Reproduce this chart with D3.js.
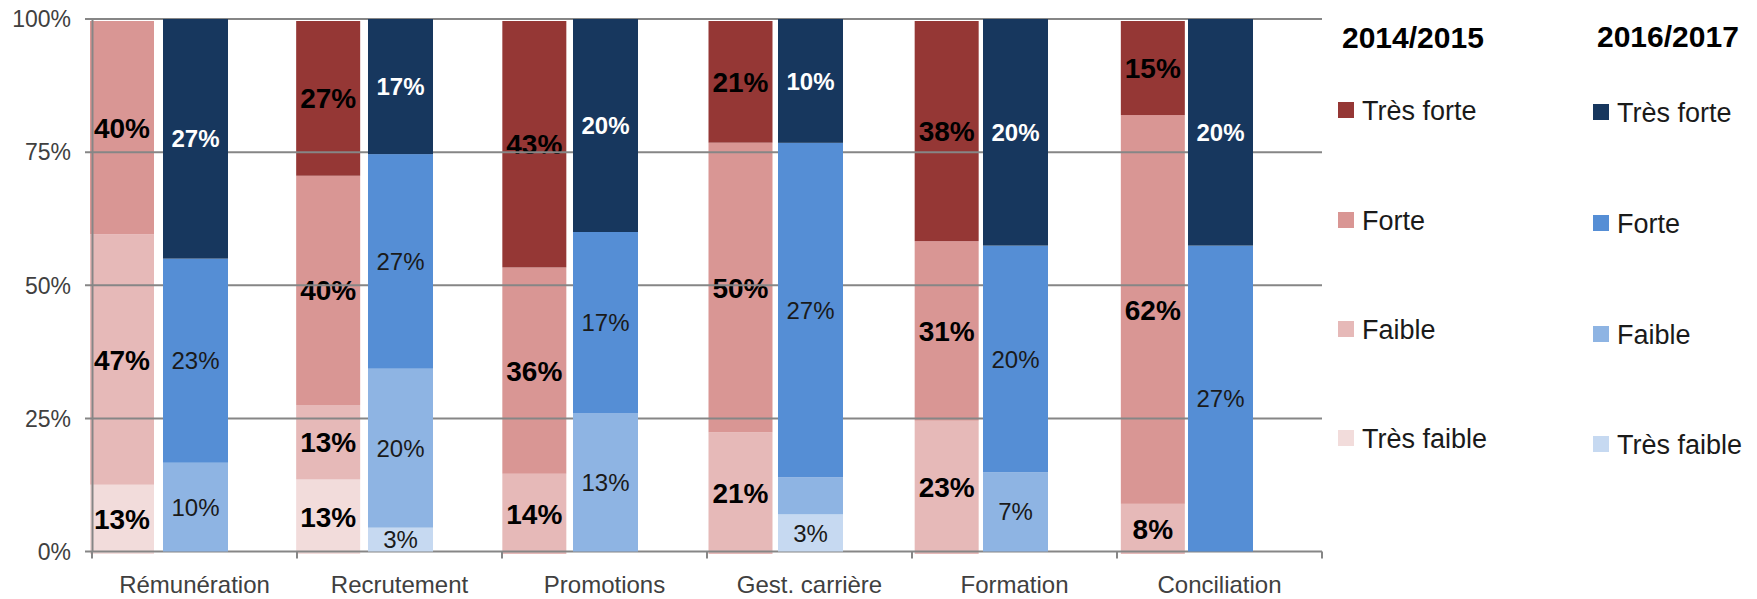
<!DOCTYPE html>
<html>
<head>
<meta charset="utf-8">
<script src="https://cdn.jsdelivr.net/npm/d3@7"></script>
<style>
  body { margin: 0; background: #fff; }
  svg { display: block; font-family: "Liberation Sans", Arial, sans-serif; }
</style>
</head>
<body>
<div id="chart"></div>
<script>
const categories = ["Rémunération", "Recrutement", "Promotions", "Gest. carrière", "Formation", "Conciliation"];
const levels = ["Très faible", "Faible", "Forte", "Très forte"];

// 2014/2015 (red), one array per level
const veryLow2014  = [13, 13, 0, 0, 0, 0];
const low2014      = [47, 13, 14, 21, 23, 8];
const high2014     = [40, 40, 36, 50, 31, 62];
const veryHigh2014 = [0, 27, 43, 21, 38, 15];

// 2016/2017 (blue)
const veryLow2016  = [0, 3, 0, 3, 0, 0];
const low2016      = [10, 20, 13, 3, 7, 0];
const high2016     = [23, 27, 17, 27, 20, 27];
const veryHigh2016 = [27, 17, 20, 10, 20, 20];

// segments drawn without a label in the original
const unlabeled2016 = [["Gest. carrière", "Faible"]];

const yTicks = [0, 0.25, 0.5, 0.75, 1];
const legendTitles = ["2014/2015", "2016/2017"];

const red = ["#f2dcdb", "#e6b9b8", "#d99694", "#953735"];
const blue = ["#c6d9f1", "#8eb4e3", "#558ed5", "#17375e"];

width = 1757;
height = 599;

const rows = (arrs) => categories.map((c, i) => {
    const r = { cat: c };
    levels.forEach((l, j) => r[l] = arrs[j][i]);
    return r;
});
const data2014 = rows([veryLow2014, low2014, high2014, veryHigh2014]);
const data2016 = rows([veryLow2016, low2016, high2016, veryHigh2016]);

const stack = d3.stack().keys(levels).offset(d3.stackOffsetExpand);
const s2014 = stack(data2014);
const s2016 = stack(data2016);

// front (blue) chart axes; red chart sits on a slightly shifted secondary frame
const x = d3.scaleBand(categories, [92, 1322]);
const xRed = d3.scaleBand(categories, [90, 1327]);
const y = d3.scaleLinear([0, 1], [551.5, 19]);
const yRed = d3.scaleLinear([0, 1], [554, 21]);
const barW = 64, blueOff = 71;

const svg = d3.select("#chart").append("svg")
    .attr("width", width)
    .attr("height", height)
    .attr("viewBox", [0, 0, width, height]);

// red bars (behind the gridlines)
const redLayer = svg.append("g");
redLayer.selectAll("g")
    .data(s2014)
    .join("g")
    .attr("fill", (d, i) => red[i])
    .selectAll("rect")
    .data(d => d)
    .join("rect")
    .attr("x", d => xRed(d.data.cat))
    .attr("width", barW)
    .attr("y", d => yRed(d[1]))
    .attr("height", d => yRed(d[0]) - yRed(d[1]));

redLayer.selectAll("text")
    .data(s2014.flatMap(s => s.map(d => ({ d, key: s.key }))).filter(o => o.d.data[o.key] > 0))
    .join("text")
    .attr("x", o => xRed(o.d.data.cat) + barW / 2)
    .attr("y", o => yRed((o.d[0] + o.d[1]) / 2))
    .attr("dy", "0.36em")
    .attr("text-anchor", "middle")
    .attr("font-weight", "bold")
    .attr("font-size", 28)
    .attr("fill", "#000")
    .text(o => o.d.data[o.key] + "%");

// gridlines and axes
const grid = svg.append("g");
grid.selectAll("line.grid")
    .data(yTicks)
    .join("line")
    .attr("class", "grid")
    .attr("x1", 85).attr("x2", 1322)
    .attr("y1", d => y(d)).attr("y2", d => y(d))
    .attr("stroke", "#868686")
    .attr("stroke-width", 2);

grid.append("line")
    .attr("x1", 92.5).attr("x2", 92.5)
    .attr("y1", y(1)).attr("y2", y(0))
    .attr("stroke", "#868686")
    .attr("stroke-width", 2);

const bounds = categories.map(c => x(c)).concat([x.range()[1]]);
grid.selectAll("line.xtick")
    .data(bounds)
    .join("line")
    .attr("class", "xtick")
    .attr("x1", d => d).attr("x2", d => d)
    .attr("y1", y(0)).attr("y2", y(0) + 7)
    .attr("stroke", "#868686")
    .attr("stroke-width", 2);

grid.selectAll("text.ytick")
    .data(yTicks)
    .join("text")
    .attr("class", "ytick")
    .attr("x", 71)
    .attr("y", d => y(d))
    .attr("dy", "0.36em")
    .attr("text-anchor", "end")
    .attr("font-size", 23)
    .attr("fill", "#404040")
    .text(d3.format(".0%"));

grid.selectAll("text.xlabel")
    .data(categories)
    .join("text")
    .attr("class", "xlabel")
    .attr("x", d => x(d) + x.bandwidth() / 2)
    .attr("y", 593)
    .attr("text-anchor", "middle")
    .attr("font-size", 24)
    .attr("fill", "#404040")
    .text(d => d);

// blue bars on top
const blueLayer = svg.append("g");
blueLayer.selectAll("g")
    .data(s2016)
    .join("g")
    .attr("fill", (d, i) => blue[i])
    .selectAll("rect")
    .data(d => d)
    .join("rect")
    .attr("x", d => x(d.data.cat) + blueOff)
    .attr("width", barW + 1)
    .attr("y", d => y(d[1]))
    .attr("height", d => y(d[0]) - y(d[1]));

const hidden = (cat, key) => unlabeled2016.some(u => u[0] === cat && u[1] === key);
blueLayer.selectAll("text")
    .data(s2016.flatMap(s => s.map(d => ({ d, key: s.key })))
        .filter(o => o.d.data[o.key] > 0 && !hidden(o.d.data.cat, o.key)))
    .join("text")
    .attr("x", o => x(o.d.data.cat) + blueOff + (barW + 1) / 2)
    .attr("y", o => y((o.d[0] + o.d[1]) / 2))
    .attr("dy", "0.36em")
    .attr("text-anchor", "middle")
    .attr("font-size", 24)
    .attr("font-weight", o => o.key === "Très forte" ? "bold" : "normal")
    .attr("fill", o => o.key === "Très forte" ? "#fff" : "#1a1a1a")
    .text(o => o.d.data[o.key] + "%");

// legends: two columns, top level first
const legendCols = [
    { title: legendTitles[0], colors: red, x: 1338, rowsY: [110, 220, 329, 438], titleY: 48 },
    { title: legendTitles[1], colors: blue, x: 1593, rowsY: [112, 223, 334, 444], titleY: 47 }
];
const order = levels.slice().reverse();
legendCols.forEach(col => {
    const g = svg.append("g");
    g.append("text")
        .attr("x", col.x + 4)
        .attr("y", col.titleY)
        .attr("font-size", 30)
        .attr("font-weight", "bold")
        .attr("fill", "#000")
        .text(col.title);
    const item = g.selectAll("g")
        .data(order)
        .join("g")
        .attr("transform", (d, i) => `translate(${col.x},${col.rowsY[i]})`);
    item.append("rect")
        .attr("x", 0).attr("y", -8)
        .attr("width", 16).attr("height", 16)
        .attr("fill", d => col.colors[levels.indexOf(d)]);
    item.append("text")
        .attr("x", 24)
        .attr("dy", "0.36em")
        .attr("font-size", 27)
        .attr("fill", "#1a1a1a")
        .text(d => d);
});
</script>
</body>
</html>
